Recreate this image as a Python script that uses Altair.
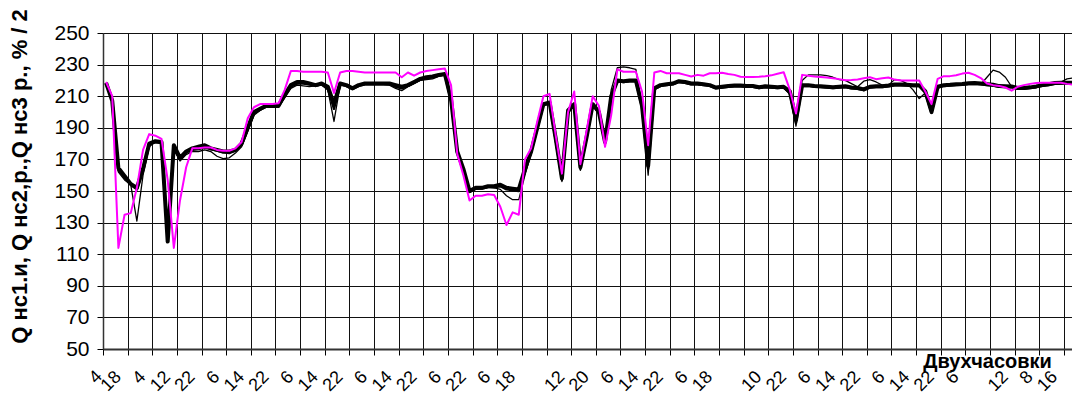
import altair as alt
import pandas as pd

# --- data (two-hour readings, one value per category) ---
q_thick = [218.5, 207, 164.5, 159.5, 154.5, 152, 164, 180, 181.5, 181,
           118, 179, 171, 175, 177, 178, 179, 177, 176, 175,
           175, 176, 180, 190, 200, 202, 204, 204, 204, 211,
           217, 219, 219, 218, 217, 218, 216, 205, 218, 217,
           215, 217, 218, 218, 218, 218, 218, 217, 216, 217,
           219, 221, 222, 222.5, 223.5, 224, 208, 175, 164, 150,
           152, 152, 153, 153, 154, 152, 151.5, 151, 164, 175,
           190, 205, 206, 183, 158, 201, 205, 165, 184, 205,
           200, 181, 210, 220, 219.5, 220, 220, 204, 166, 215,
           217, 217.5, 218, 219.5, 219, 218, 218, 217.5, 217, 215.5,
           216, 216.5, 216.7, 216.7, 216.5, 216.5, 215.7, 216.3, 216, 215.7,
           216, 213, 195, 217, 217, 216.5, 216.3, 216, 215.7, 216,
           216.3, 215.5, 215.2, 214.3, 216, 216.3, 216.3, 216.8, 217.4, 217.4,
           217.2, 217, 217, 213, 200, 216, 217, 217.2, 217.5, 217.7,
           218.2, 218.4, 218, 217.6, 217.2, 216.4, 216.3, 216.2, 215.2, 215.2,
           215.6, 216.2, 217, 217.6, 218.3, 218.5, 218.5, 218.5, 218.5]

q_medium = [218, 208, 163, 158.5, 154, 151, 163, 179.5, 181, 180.5,
            119, 178, 170, 174.5, 176, 176.5, 177.5, 176.5, 175.5, 174.5,
            174, 175.5, 179, 189, 199, 201.5, 203.5, 203.5, 203.5, 210,
            216, 218, 218, 217.5, 216.5, 217.5, 215, 202, 217.5, 216.5,
            214.5, 216.5, 217.5, 217.5, 217.5, 217.5, 217.5, 216, 215, 216.5,
            218.5, 220.5, 221.5, 222, 223, 223.5, 207, 175.5, 163, 149.5,
            151.5, 151.5, 152.5, 152.5, 153, 151, 150.5, 150, 162, 174.5,
            189.5, 204.5, 205.5, 182, 157, 200, 204.5, 164, 183.5, 204.5,
            199.5, 180.5, 210, 219.5, 219, 219.5, 219.5, 203, 164, 214.5,
            216.5, 217, 217.5, 219, 218.5, 217.5, 217.5, 217, 216.5, 215,
            215.5, 216, 216.2, 216.2, 216, 216, 215.2, 215.8, 215.5, 215.2,
            215.5, 212, 193, 216.5, 216.5, 216, 215.8, 215.5, 215.2, 215.5,
            215.8, 215, 214.7, 213.8, 215.5, 215.8, 215.8, 216.3, 216.9, 216.9,
            216.7, 216.5, 216.5, 212, 199.5, 215.5, 216.5, 216.7, 217, 217.2,
            217.7, 217.9, 217.5, 217.1, 216.7, 215.9, 215.8, 215.7, 214.7, 214.7,
            215.1, 215.7, 216.5, 217.1, 217.8, 218, 218.5, 219, 219.5]

q_thin = [217, 209, 162, 157, 154, 131, 160, 178, 181, 180,
          120, 176, 169, 173, 175, 175, 176, 175, 172, 170.5,
          171, 174, 178, 188, 198, 201, 203, 203, 203, 209,
          215, 217, 216.5, 216, 216.5, 217, 214, 194, 217, 216.5,
          214.5, 216.5, 217.5, 217.5, 217.5, 217.5, 217, 215, 213.5, 216,
          218, 220, 220.5, 221, 222.5, 223.5, 206, 176, 162, 149,
          151, 151.5, 152.5, 152, 151, 147, 144.5, 144.5, 160, 174,
          189, 204, 205, 180, 156, 199, 204, 163, 183, 204,
          199, 180, 214, 228, 228.5, 228, 227, 204, 160, 214,
          216.5, 217, 217.5, 219, 218.5, 217.5, 217.5, 217, 216.5, 215,
          215.5, 216, 216, 216, 216, 216, 215, 215.5, 215.5, 215,
          215.5, 211, 191, 220, 223.5, 223.5, 223.5, 223, 222, 220.5,
          220, 218, 216, 219.5, 220.5, 219, 217, 217, 220.5, 220,
          218, 214, 208.5, 212, 199, 216, 216.5, 217, 217, 217.5,
          218, 218, 217.5, 222, 226.5, 225.3, 222, 216, 215, 215,
          215.5, 216, 216.5, 217, 218, 219, 221, 221.5, 220.5]

pct_half = [219, 210, 114, 135, 136, 152, 176, 186, 185, 183,
            157, 114, 144, 165, 177, 177, 177.5, 177.5, 176, 175.5,
            175.5, 177, 181, 196, 203, 205, 205, 205, 205.5, 214,
            226, 226, 225.5, 225.5, 225.5, 225.5, 225, 212, 225, 226,
            226, 225.5, 225, 225, 225, 225, 225, 225, 222, 225,
            223, 225, 226, 226.5, 227, 227.5, 217, 173.5, 160, 144,
            147, 147, 148, 147.5, 140, 128.5, 136.5, 135, 170, 177,
            194, 210, 211.5, 185, 161, 200, 213, 167, 188, 210,
            204, 178, 198, 227, 225.5, 225.5, 225.5, 213, 179, 225,
            226, 224.5, 224.5, 224.5, 223.5, 222.5, 223.5, 223, 224.5, 224.5,
            224.8, 224, 223.5, 222.3, 222.1, 222.1, 222.3, 222.7, 223.2, 224.2,
            225.2, 214, 199, 223.5, 223, 222.5, 222.2, 221.8, 221.4, 220.8,
            220.1, 220.3, 220.6, 221.3, 222, 220.8, 221.3, 221.8, 220.5, 219.9,
            219.9, 219.9, 219.9, 213, 205, 221, 222.7, 222.7, 223.3, 224.3,
            224.8, 223.5, 221.5, 218, 217, 216.5, 215.5, 213.5, 216, 217,
            217.8, 218.3, 218.5, 218.5, 218.5, 218.5, 217.8, 217.4, 217.4]

x_tick_positions = [-3, 0, 4, 8, 12, 16, 20, 24, 28, 32, 36, 40, 44, 48, 52, 56,
                    60, 64, 68, 72, 76, 80, 84, 88, 92, 96, 100, 104, 108, 112,
                    116, 120, 124, 128, 132, 136, 140, 144, 148, 152, 156]
x_tick_labels = ["4", "18", "4", "12", "22", "6", "14", "22", "6", "14", "22",
                 "6", "14", "22", "6", "22", "6", "18", "", "12", "20",
                 "6", "14", "22", "6", "18", "", "10", "22", "6", "14",
                 "22", "6", "14", "22", "6", "", "12", "8", "16", ""]
y_ticks = [50, 70, 90, 110, 130, 150, 170, 190, 210, 230, 250]

series = [
    ("Q нс1", q_thick, "#000000", 4.0),
    ("Q нс2", q_medium, "#000000", 2.4),
    ("Q нс3", q_thin, "#000000", 1.3),
    ("% / 2", pct_half, "#FF00FF", 2.0),
]

rows = []
for name, vals, _, _ in series:
    for i, v in enumerate(vals):
        rows.append({"x": i + 0.5, "v": v, "s": name})
df = pd.DataFrame(rows)

# label lookup expression built from the label list (positions >= 0 step 4)
arr = "[" + ",".join("'" + t + "'" for t in x_tick_labels[1:]) + "]"
label_expr = arr + "[round(datum.value / 4)]"

# the leading label sits left of the plot area: drawn as a text mark
lead_df = pd.DataFrame({"x": [x_tick_positions[0]], "t": [x_tick_labels[0]]})

FONT = "Liberation Sans"
W, H = 969, 316
X_MAX = W / 6.16
LBL_SIZE = 18
LBL_PAD = 19
LBL_OFF = 15
TICK = 6

x_enc = alt.X(
    "x:Q",
    scale=alt.Scale(domain=[0, X_MAX], nice=False, zero=False),
    axis=alt.Axis(
        values=x_tick_positions[1:],
        labelExpr=label_expr,
        labelAngle=315,
        labelAlign="right",
        labelBaseline="middle",
        labelFont=FONT,
        labelFontSize=LBL_SIZE,
        labelColor="#000",
        labelPadding=LBL_PAD,
        labelOffset=LBL_OFF,
        labelOverlap=False,
        labelFlush=False,
        tickSize=TICK,
        tickColor="#000",
        grid=True,
        gridColor="#111",
        gridWidth=1,
        domainColor="#333",
        domainWidth=2,
        title="Двухчасовки",
        titleFont=FONT,
        titleFontSize=20,
        titleFontWeight="bold",
        titleColor="#000",
        titleX=884,
        titleY=12,
        titleAlign="center",
        titleBaseline="middle",
    ),
)

y_enc = alt.Y(
    "v:Q",
    scale=alt.Scale(domain=[50, 250], nice=False, zero=False),
    axis=alt.Axis(
        values=y_ticks,
        labelFont=FONT,
        labelFontSize=21,
        labelColor="#000",
        labelPadding=8,
        tickSize=6,
        tickColor="#000",
        grid=True,
        gridColor="#111",
        gridWidth=1,
        domainColor="#333",
        domainWidth=1.5,
        title="Q нс1.и, Q нс2,р.,Q нс3 р., % / 2",
        titleFont=FONT,
        titleFontSize=22,
        titleFontWeight="bold",
        titleColor="#000",
        titleAngle=270,
        titleX=-84,
        titleY=143,
        titleAlign="center",
        titleBaseline="middle",
    ),
)

base = alt.Chart(df).encode(x=x_enc, y=y_enc)

layers = []
for name, _, color, width in series:
    layers.append(
        base.transform_filter(alt.datum.s == name).mark_line(
            color=color, strokeWidth=width, clip=True, strokeJoin="round"
        )
    )

d = LBL_OFF * 0.7071
lead = alt.Chart(lead_df).mark_text(
    angle=315, align="right", baseline="middle", font=FONT,
    fontSize=LBL_SIZE, color="#000", dx=d, dy=d,
).encode(x=x_enc, y=alt.value(H + TICK + LBL_PAD), text="t:N")
layers.append(lead)

chart = alt.layer(*layers).properties(
    width=W,
    height=H,
    autosize=alt.AutoSizeParams(type="none"),
    padding={"left": 95, "top": 25, "right": 0, "bottom": 43},
    background="white",
).configure_view(stroke=None)

chart.save("out.html", embed_options={"renderer": "svg", "actions": False})
